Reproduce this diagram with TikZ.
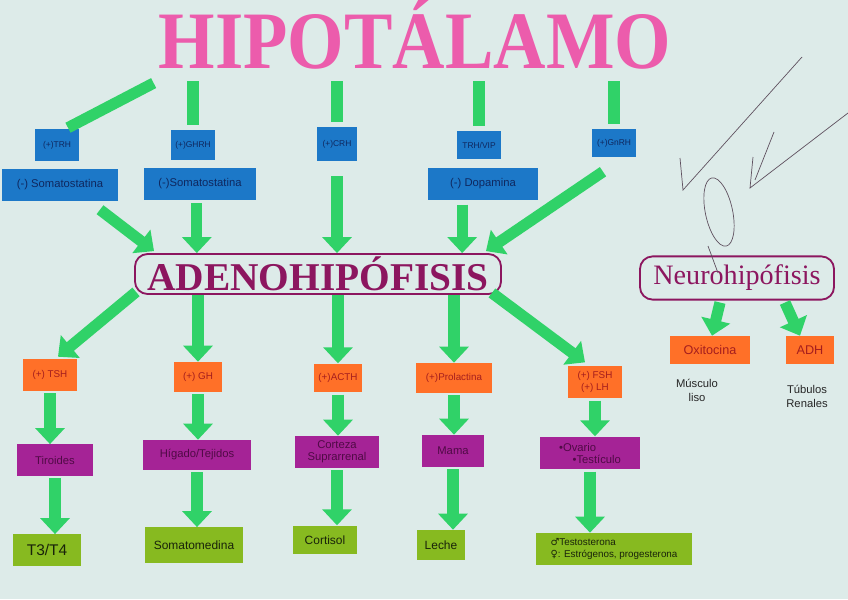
\documentclass[tikz,border=0pt]{standalone}
\usepackage{fontspec}
\setmainfont{Liberation Sans}
\newfontfamily\titlefont{Liberation Serif}
\newfontfamily\symfont{DejaVu Sans}
\usepackage{tikz}
\usetikzlibrary{positioning, arrows.meta, calc}

\definecolor{paper}{RGB}{221,235,233}
\definecolor{tpink}{RGB}{236,92,172}
\definecolor{gframe}{RGB}{140,22,95}
\definecolor{agreen}{RGB}{48,210,104}
\definecolor{hblue}{RGB}{28,120,200}
\definecolor{hbluetxt}{RGB}{15,40,95}
\definecolor{horange}{RGB}{255,112,40}
\definecolor{hortxt}{RGB}{165,30,30}
\definecolor{hpurple}{RGB}{165,35,150}
\definecolor{hpurtxt}{RGB}{80,10,70}
\definecolor{hlime}{RGB}{135,186,32}
\definecolor{hlimetxt}{RGB}{25,35,10}
\definecolor{pen}{RGB}{95,80,95}

\begin{document}
\begin{tikzpicture}[
  x=0.025cm, y=-0.025cm,
  title/.style={font=\titlefont\bfseries\fontsize{58}{58}\selectfont, text=tpink, inner sep=0pt, anchor=base},
  gland/.style={draw=gframe, line width=1.3pt, rounded corners=9pt, text=gframe, inner sep=1pt},
  hyp/.style={fill=hblue, text=hbluetxt, inner sep=1pt, align=center, font=\fontsize{6}{7}\selectfont},
  hypwide/.style={hyp, font=\fontsize{8}{9}\selectfont},
  hormone/.style={fill=horange, text=hortxt, inner sep=1pt, align=center, font=\fontsize{7}{8}\selectfont},
  organ/.style={fill=hpurple, text=hpurtxt, inner sep=1pt, align=center, font=\fontsize{8}{8.5}\selectfont},
  effect/.style={fill=hlime, text=hlimetxt, inner sep=1pt, align=center, font=\fontsize{8.5}{9.5}\selectfont},
  note/.style={text=black!85, align=center, font=\fontsize{8}{10}\selectfont},
  bar/.style={draw=agreen, line width=0.28cm},
  arr/.style={bar, -{Triangle[width=0.72cm,length=0.4cm]}},
  penline/.style={draw=pen, line width=0.5pt}
]
\useasboundingbox (0,0) rectangle (848,599);
\fill[paper] (0,0) rectangle (848,599);

% hipotalamo
\node[title] (title) at (415,68) {\scalebox{0.89}[1]{HIPOTÁLAMO}};

% hormonas hipotalamicas
\node[hyp, minimum width=1.08cm, minimum height=0.8cm] (trh) at (57,145) {(+)TRH};
\node[hypwide, minimum width=2.92cm, minimum height=0.82cm] (somat1) at (60,185) {(-) Somatostatina};
\node[hyp, minimum width=1.12cm, minimum height=0.75cm] (ghrh) at (193,145) {(+)GHRH};
\node[hypwide, minimum width=2.82cm, minimum height=0.8cm] (somat2) at (200,184) {(-)Somatostatina};
\node[hyp, minimum width=0.98cm, minimum height=0.85cm] (crh) at (337,144) {(+)CRH};
\node[hyp, minimum width=1.1cm, minimum height=0.72cm] (trhvip) at (479,145) {TRH/VIP};
\node[hypwide, minimum width=2.75cm, minimum height=0.78cm] (dopa) at (483,184) {(-) Dopamina};
\node[hyp, minimum width=1.12cm, minimum height=0.72cm] (gnrh) at (614,143) {(+)GnRH};

% hipofisis
\node[gland, minimum width=9.15cm, minimum height=1.0cm,
  font=\titlefont\bfseries\fontsize{28}{28}\selectfont] (adeno) at (318,274) {ADENOHIPÓFISIS};
\node[gland, minimum width=4.85cm, minimum height=1.08cm,
  font=\titlefont\fontsize{20}{20}\selectfont] (neuro) at (737,278) {Neurohipófisis};

% hormonas hipofisarias
\node[hormone, minimum width=1.35cm, minimum height=0.8cm] (tsh) at (50,375) {(+) TSH};
\node[hormone, minimum width=1.2cm, minimum height=0.75cm] (gh) at (198,377) {(+) GH};
\node[hormone, minimum width=1.22cm, minimum height=0.72cm] (acth) at (338,378) {(+)ACTH};
\node[hormone, minimum width=1.88cm, minimum height=0.75cm] (prl) at (454,378) {(+)Prolactina};
\node[hormone, minimum width=1.35cm, minimum height=0.82cm] (fshlh) at (595,382) {(+) FSH\\(+) LH};
\node[hormone, minimum width=2.02cm, minimum height=0.7cm, font=\fontsize{9}{10}\selectfont] (oxi) at (710,350) {Oxitocina};
\node[hormone, minimum width=1.2cm, minimum height=0.7cm, font=\fontsize{9}{10}\selectfont] (adh) at (810,350) {ADH};
\node[note] (musculo) at (697,390) {Músculo\\liso};
\node[note] (tubulos) at (807,396) {Túbulos\\Renales};

% organos diana
\node[organ, minimum width=1.9cm, minimum height=0.78cm] (tiro) at (55,460) {Tiroides};
\node[organ, minimum width=2.68cm, minimum height=0.75cm] (higado) at (197,455) {Hígado/Tejidos};
\node[organ, minimum width=2.12cm, minimum height=0.8cm] (corteza) at (337,452) {Corteza\\Suprarrenal};
\node[organ, minimum width=1.55cm, minimum height=0.8cm] (mama) at (453,451) {Mama};
\node[organ, minimum width=2.5cm, minimum height=0.82cm, align=left] (ovario) at (590,453) {\textbullet Ovario\\\hspace{1.2em}\textbullet Testículo};

% efectos
\node[effect, minimum width=1.68cm, minimum height=0.78cm, font=\fontsize{11}{12}\selectfont] (t3t4) at (47,550) {T3/T4};
\node[effect, minimum width=2.45cm, minimum height=0.88cm] (somed) at (194,545) {Somatomedina};
\node[effect, minimum width=1.58cm, minimum height=0.72cm] (cortisol) at (325,540) {Cortisol};
\node[effect, minimum width=1.18cm, minimum height=0.75cm] (leche) at (441,545) {Leche};
\node[effect, minimum width=3.88cm, minimum height=0.8cm, align=left, font=\fontsize{7}{8.5}\selectfont] (sexo) at (614,549)
  {{\symfont ♂}Testosterona\\{\symfont ♀}: Estrógenos, progesterona};

% hipotalamo -> hormonas
\draw[bar] ($(title.south west)+(-5,14)$) -- ($(trh.north)+(11,-1)$);
\foreach \n in {ghrh, crh, trhvip, gnrh}
  \draw[bar, shorten <=0.3cm, shorten >=0.12cm] (\n.north |- title.south) -- (\n.north);

% hormonas -> adenohipofisis
\draw[arr] ($(somat1.south)+(40,8)$) -- ($(adeno.north west)+(20,-2)$);
\draw[arr, shorten <=0.08cm] ([xshift=-0.08cm]somat2.south) -- ([xshift=-0.08cm]somat2.south |- adeno.north);
\draw[arr, shorten <=0.38cm] (crh.south) -- (crh.south |- adeno.north);
\draw[arr, shorten <=0.12cm] ([xshift=-0.52cm]dopa.south) -- ([xshift=-0.52cm]dopa.south |- adeno.north);
\draw[arr] ($(gnrh.south)+(-11,14)$) -- ($(adeno.north east)+(-16,-2)$);

% hipofisis -> hormonas
\draw[arr] ($(adeno.south west)+(2,-3)$) -- ($(tsh.north)+(8,-2)$);
\draw[arr] (adeno.south -| gh.north) -- (gh.north);
\draw[arr] (adeno.south -| acth.north) -- (acth.north);
\draw[arr] (adeno.south -| prl.north) -- (prl.north);
\draw[arr] ($(adeno.south east)+(-10,-2)$) -- ($(fshlh.north)+(-10,-3)$);
\draw[arr] ($(neuro.south)+(-17,2)$) -- ($(oxi.north)+(2,0)$);
\draw[arr] ($(neuro.south)+(48,2)$) -- ($(adh.north)+(-10,0)$);

% hormonas -> organos -> efectos
\foreach \a/\b in {tsh/tiro, gh/higado, acth/corteza, prl/mama, fshlh/ovario,
                   tiro/t3t4, higado/somed, corteza/cortisol, mama/leche, ovario/sexo}
  \draw[arr, shorten <=0.05cm] (\a.south) -- (\a.south |- \b.north);

% marcas de lapiz
\draw[penline] (680,158) -- (683,190) -- (802,57);
\draw[penline] (848,113) -- (750,188) -- (753,157);
\draw[penline] (774,132) -- (755,180);
\draw[penline, rotate around={12:(719,212)}] (719,212) ellipse (0.34cm and 0.87cm);
\draw[penline] (708,246) -- (718,273);
\end{tikzpicture}
\end{document}
